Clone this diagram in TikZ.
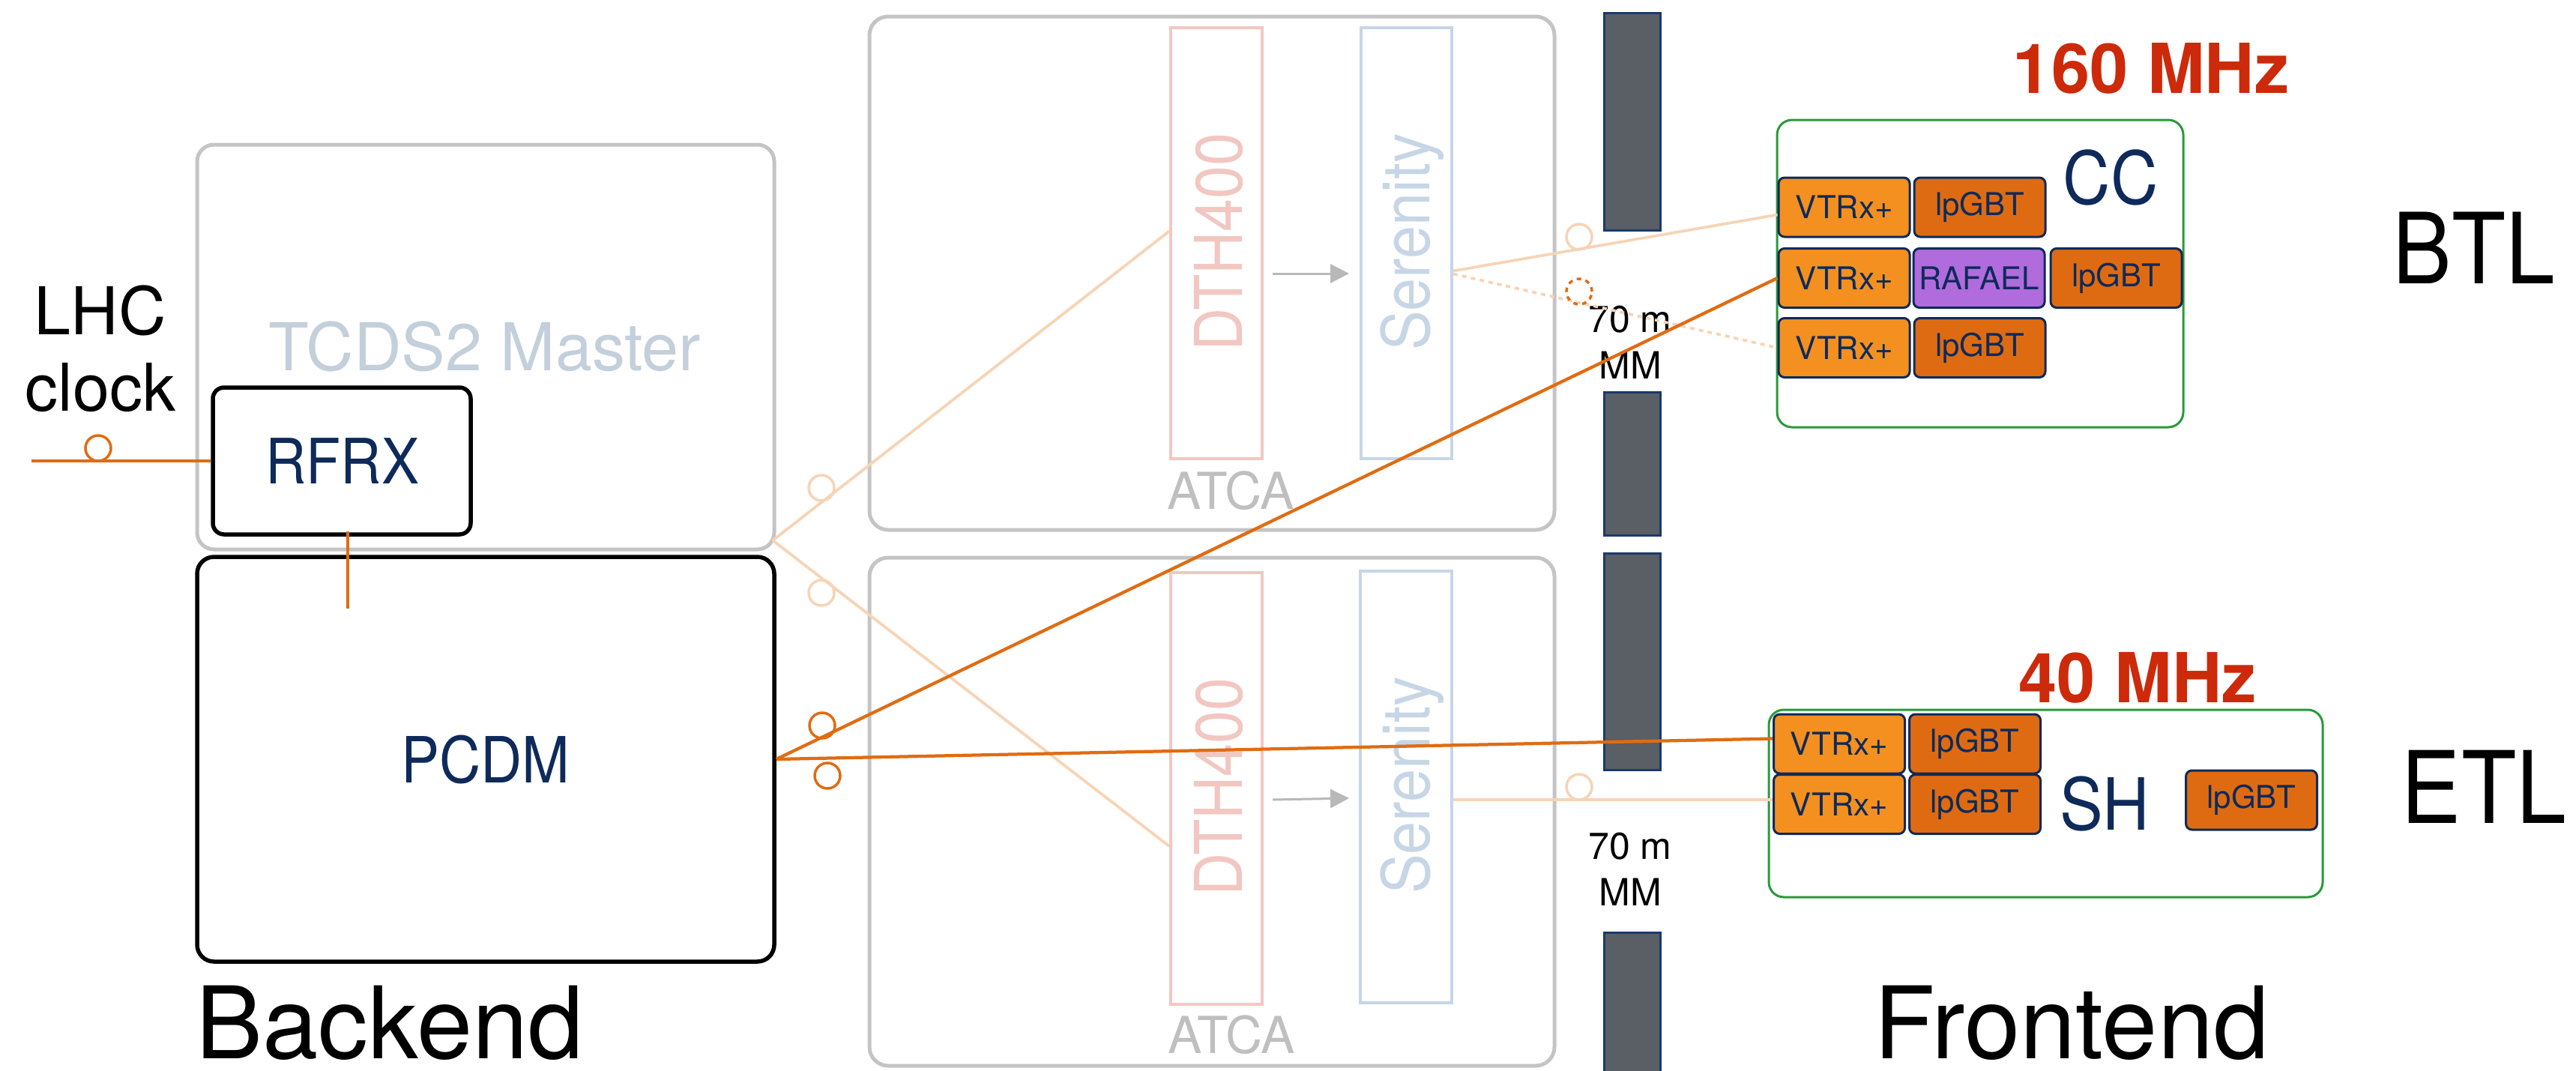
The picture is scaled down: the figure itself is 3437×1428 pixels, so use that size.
\documentclass[tikz,border=0pt]{standalone}
\usepackage{fontspec}
\setmainfont{TeX Gyre Heros}
\newfontfamily\condfont[FakeStretch=0.9]{TeX Gyre Heros}
\usetikzlibrary{calc,fit,arrows.meta}
\definecolor{orln}{HTML}{E06C12}
\definecolor{lightor}{HTML}{F6D4B6}
\definecolor{navy}{HTML}{0E2A5A}
\definecolor{boxgray}{HTML}{C4C4C4}
\definecolor{tcdstext}{HTML}{C4CFDC}
\definecolor{dthcol}{HTML}{F2C7C1}
\definecolor{sercol}{HTML}{C7D6E6}
\definecolor{atcatext}{HTML}{BFBFBF}
\definecolor{arrowgray}{HTML}{B8B8B8}
\definecolor{vtrxfill}{HTML}{F3901F}
\definecolor{lpgbtfill}{HTML}{DE6B12}
\definecolor{rafaelfill}{HTML}{B06BDC}
\definecolor{greenbox}{HTML}{2A9A3A}
\definecolor{redtxt}{HTML}{CC2A0A}
\definecolor{barfill}{HTML}{5A5E65}
\definecolor{barline}{HTML}{1B3A6B}
\newcommand{\pxfont}[2]{\fontsize{#1}{#2}\selectfont}
\tikzset{
  gbox/.style={draw=boxgray, line width=1pt, rounded corners=4.5pt, inner sep=0pt},
  kbox/.style={draw=black, line width=1.1pt, rounded corners=3pt, inner sep=0pt},
  dthbox/.style={draw=dthcol, line width=0.8pt, inner sep=0pt},
  serbox/.style={draw=sercol, line width=0.8pt, inner sep=0pt},
  greenfr/.style={draw=greenbox, line width=0.6pt, rounded corners=4pt, inner sep=0pt},
  barbox/.style={fill=barfill, draw=barline, line width=0.6pt, inner sep=0pt},
  chip/.style={draw=navy, line width=0.6pt, rounded corners=1.6pt, minimum width=35pt,
    minimum height=15.8pt, inner sep=0pt, text=navy, font=\pxfont{8.4}{10}},
  vtrx/.style={chip, fill=vtrxfill},
  lpgbt/.style={chip, fill=lpgbtfill},
  rafael/.style={chip, fill=rafaelfill},
  txt/.style={inner sep=0pt, anchor=base},
  strongln/.style={draw=orln, line width=0.85pt},
  lightln/.style={draw=lightor, line width=0.75pt},
  garrow/.style={draw=arrowgray, line width=0.6pt, -{Triangle[length=5pt,width=5pt]}},
  fibre/.style={circle, draw=orln, line width=0.7pt, minimum size=6.8pt, inner sep=0pt},
  lfibre/.style={fibre, draw=lightor},
}
\begin{document}
\begin{tikzpicture}[x=0.2pt,y=-0.2pt]
\useasboundingbox[fill=white] (0,0) rectangle (3437,1428);

% ---------------- backend boxes
\node[gbox, fit={(263,193)(1033,733)}] (tcds) {};
\node[txt, font=\pxfont{17.6}{20}, text=tcdstext] (tcdslbl) at (647,494) {TCDS2 Master};
\node[kbox, fill=white, fit={(284,517)(628,713)}] (rfrx) {};
\node[txt, text=navy, font=\condfont\pxfont{16.7}{20}] (rfrxlbl) at (457,645) {RFRX};
\node[kbox, rounded corners=4.5pt, fit={(263,743)(1033,1283)}] (pcdm) {};
\node[txt, text=navy, font=\condfont\pxfont{17}{20}] (pcdmlbl) at (648,1044) {PCDM};
\node[inner sep=0pt, align=center, font=\pxfont{17.6}{20.4}] (lhc) at (134,465) {LHC\\clock};
\node[txt, font=\pxfont{26.7}{30}] (backend) at (520,1412) {Backend};

% ---------------- ATCA crates
\node[gbox, rounded corners=5pt, fit={(1160,22)(2074,707)}] (atca1) {};
\node[gbox, rounded corners=5pt, fit={(1160,744)(2074,1422)}] (atca2) {};
\node[dthbox, fit={(1562,37)(1684,612)}] (dth1) {};
\node[serbox, fit={(1816,37)(1937,612)}] (ser1) {};
\node[dthbox, fit={(1562,764)(1684,1340)}] (dth2) {};
\node[serbox, fit={(1815,762)(1937,1338)}] (ser2) {};
\node[inner sep=0pt, rotate=90, text=dthcol, font=\condfont\pxfont{17.6}{20}] (dth1lbl) at (1626,323) {DTH400};
\node[inner sep=0pt, rotate=90, text=sercol, font=\condfont\pxfont{17.6}{20}] (ser1lbl) at (1884,323) {Serenity};
\node[inner sep=0pt, rotate=90, text=dthcol, font=\condfont\pxfont{17.6}{20}] (dth2lbl) at (1626,1050) {DTH400};
\node[inner sep=0pt, rotate=90, text=sercol, font=\condfont\pxfont{17.6}{20}] (ser2lbl) at (1884,1048) {Serenity};
\node[txt, text=atcatext, font=\pxfont{13.6}{16}] (atca1lbl) at (1642,679) {ATCA};
\node[txt, text=atcatext, font=\pxfont{13.6}{16}] (atca2lbl) at (1643,1405) {ATCA};
\draw[garrow] ($(dth1.east)+(12,40.5)$) -- ($(ser1.west)+(-14,40.5)$);
\draw[garrow] ($(dth2.east)+(12,15)$) -- ($(ser2.west)+(-13,15)$);

% ---------------- wall bars
\node[barbox, fit={(2140,17)(2215,307)}] (bar1) {};
\node[barbox, fit={(2140,523)(2215,714)}] (bar2) {};
\node[barbox, fit={(2140,738)(2215,1027)}] (bar3) {};
\node[barbox, fit={(2140,1244)(2215,1440)}] (bar4) {};
\node[inner sep=0pt, align=center, font=\pxfont{10}{12.4}] (mm1) at (2175,457) {70 m\\MM};
\node[inner sep=0pt, align=center, font=\pxfont{10}{12.4}] (mm2) at (2175,1160) {70 m\\MM};

% ---------------- frontend
\node[greenfr, fit={(2371,160)(2913,570)}] (ccbox) {};
\node[greenfr, fit={(2360,947)(3099,1197)}] (shbox) {};
\node[vtrx] (cc1v) at (2460.5,276.5) {VTRx+};
\node[lpgbt] (cc1l) at (2641.5,276.5) {lpGBT};
\node[vtrx] (cc2v) at (2460.5,371) {VTRx+};
\node[rafael] (cc2r) at (2640.5,371) {RAFAEL};
\node[lpgbt] (cc2l) at (2823.5,371) {lpGBT};
\node[vtrx] (cc3v) at (2460.5,464) {VTRx+};
\node[lpgbt] (cc3l) at (2641.5,464) {lpGBT};
\node[vtrx] (sh1v) at (2454,992.5) {VTRx+};
\node[lpgbt] (sh1l) at (2635,992.5) {lpGBT};
\node[vtrx] (sh2v) at (2454,1073) {VTRx+};
\node[lpgbt] (sh2l) at (2635,1073) {lpGBT};
\node[lpgbt] (sh3l) at (3004,1067.5) {lpGBT};
\node[txt, text=navy, font=\condfont\pxfont{19.5}{22}] (cclbl) at (2816,272) {CC};
\node[txt, text=navy, font=\condfont\pxfont{19.2}{22}] (shlbl) at (2808,1107) {SH};
\node[txt, text=redtxt, font=\bfseries\pxfont{18.4}{22}] (f160) at (2870,124) {160 MHz};
\node[txt, text=redtxt, font=\bfseries\pxfont{18.4}{22}] (f40) at (2852,937) {40 MHz};
\node[txt, font=\condfont\pxfont{26.2}{30}] (btl) at (3301,378) {BTL};
\node[txt, font=\condfont\pxfont{26.7}{30}] (etl) at (3314,1098) {ETL};
\node[txt, font=\pxfont{26.7}{30}] (frontend) at (2764,1412) {Frontend};

% ---------------- faded fibres
\coordinate (split) at (1031,721);
\draw[lightln] (split) -- ($(dth1.west)+(0,-16)$);
\draw[lightln] (split) -- ($(dth2.west)+(0,77)$);
\draw[lightln] ($(ser1.east)+(0,37)$) -- ($(cc1v.west)+(0,10)$);
\draw[lightln, dash pattern=on 1.2pt off 1.2pt] ($(ser1.east)+(0,41)$) -- (cc3v.west);
\draw[lightln] ($(ser2.east)+(0,17)$) -- ($(sh2v.west)+(0,-6)$);
\node[lfibre] (lf1) at (1096,651) {};
\node[lfibre] (lf2) at (1096,791) {};
\node[lfibre] (lf3) at (2107,316) {};
\node[lfibre] (lf4) at (2107,1050) {};
\node[fibre, dash pattern=on 1.2pt off 1.2pt] (df1) at (2107,389) {};

% ---------------- clock fibres
\coordinate (lhcin) at (42,615);
\coordinate (pcdmtap) at (464,812);
\draw[strongln] (lhcin) -- (rfrx.west);
\draw[strongln] ($(rfrx.south)+(8,-7)$) -- (pcdmtap);
\draw[strongln] (pcdm.east) -- (cc2v.west);
\draw[strongln] (pcdm.east) -- ($(sh1v.west)+(0,-7)$);
\node[fibre] (f0) at (131,598) {};
\node[fibre] (f1) at (1097,968) {};
\node[fibre] (f2) at (1104,1035) {};
\end{tikzpicture}
\end{document}
